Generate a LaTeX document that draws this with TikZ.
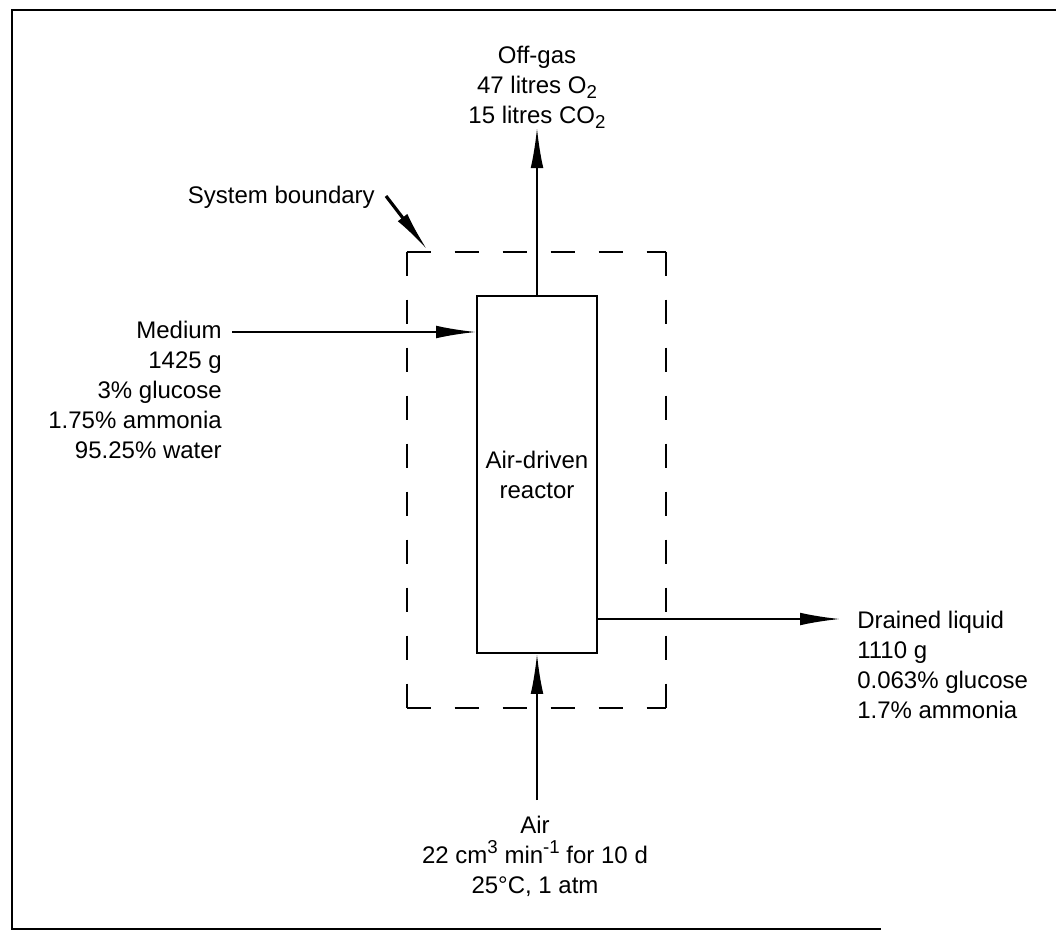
\documentclass[tikz,border=0pt]{standalone}
\usepackage{fontspec}
\setmainfont{Liberation Sans}
\usetikzlibrary{arrows.meta}
\newcommand\mysup[1]{\raisebox{0.42em}{\fontsize{14}{14}\selectfont #1}}
\newcommand\mysub[1]{\raisebox{-0.22em}{\fontsize{14}{14}\selectfont #1}}
\tikzset{
  lbl/.style={inner sep=0pt, font=\fontsize{18}{22.5}\selectfont},
  frameline/.style={line width=2pt, line cap=rect},
  dashline/.style={line width=1.7pt, dash pattern=on 18pt off 18pt},
  flow/.style={line width=1.4pt, -{Latex[length=30pt,width=9.5pt]}},
  pointer/.style={line width=2.4pt, -{Latex[length=31pt,width=9pt]}},
  reactorbox/.style={draw, line width=1.4pt, inner sep=0pt, minimum width=90pt, minimum height=267.75pt, align=center, font=\fontsize{18}{22.5}\selectfont},
}
\begin{document}
\begin{tikzpicture}[x=0.75pt, y=-0.75pt]
\useasboundingbox (0,0) rectangle (1056,931);
% outer frame
\draw[frameline] (1056,10) -- (12,10) -- (12,929) -- (880,929);
% system boundary
\node[minimum width=194.25pt, minimum height=342pt, inner sep=0pt] (boundary) at (536.5,480) {};
\draw[dashline] (boundary.north west) -- (boundary.north east);
\draw[dashline] (boundary.north east) -- (boundary.south east);
\draw[dashline] (boundary.north west) -- (boundary.south west);
\draw[dashline] (boundary.south west) -- (boundary.south east);
% reactor
\node[reactorbox] (reactor) at (537,474.5) {Air-driven\\reactor};
% labels
\node[lbl, anchor=north, align=center] (offgas) at (537,46) {Off-gas\\47 litres O\mysub{2}\\15 litres CO\mysub{2}};
\node[lbl, anchor=base east] (sysb) at (375,203) {System boundary};
\node[lbl, anchor=north east, align=right] (medium) at (222,321) {Medium\\1425 g\\3\% glucose\\1.75\% ammonia\\95.25\% water};
\node[lbl, anchor=north west, align=left] (drained) at (857,611) {Drained liquid\\1110 g\\0.063\% glucose\\1.7\% ammonia};
\node[lbl, anchor=north, align=center] (air) at (535,816) {Air\\22 cm\mysup{3} min\mysup{-1} for 10 d\\25°C, 1 atm};
% connector end points
\coordinate (medin) at (232,332);
\coordinate (offtip) at (537,128);
\coordinate (drtip) at (840,619);
\coordinate (airtail) at (537,800);
\coordinate (sbtail) at (386,196);
% flows
\draw[flow] (medin) -- (medin -| reactor.west);
\draw[flow] (reactor.north) -- (offtip);
\draw[flow] (drtip -| reactor.east) -- (drtip);
\draw[flow] (airtail) -- (reactor.south);
\draw[pointer] (sbtail) -- ([xshift=15.75pt, yshift=1pt]boundary.north west);
\end{tikzpicture}
\end{document}
